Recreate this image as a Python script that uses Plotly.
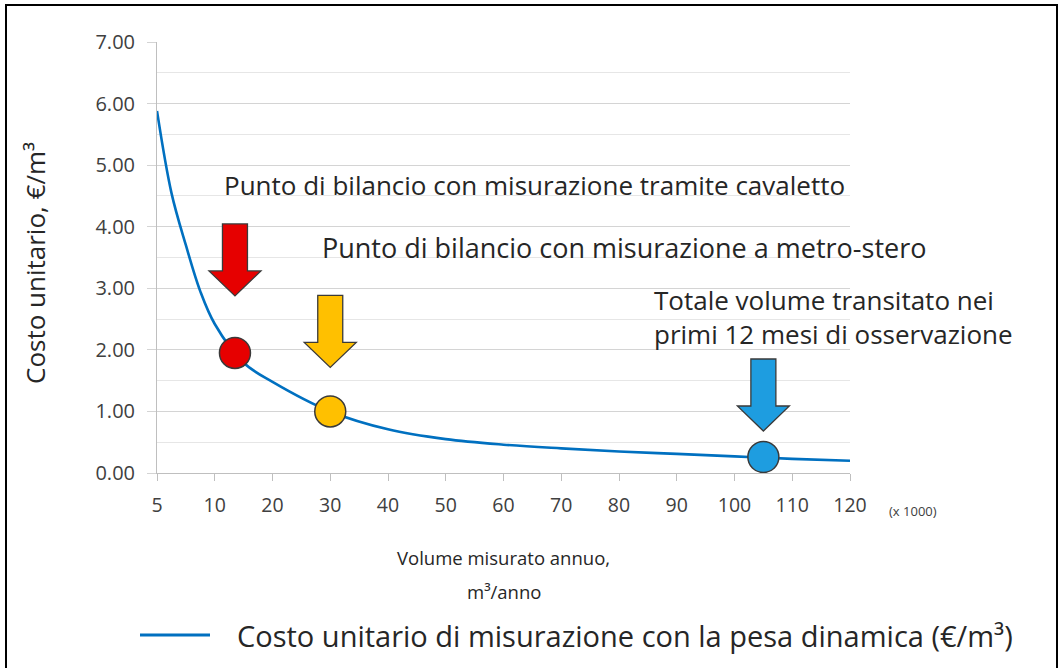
import numpy as np
import plotly.graph_objects as go

# Category ticks of the volume axis (thousands of m3/year), evenly spaced
tick_volumes = [5, 10, 20, 30, 40, 50, 60, 70, 80, 90, 100, 110, 120]
tick_labels = ["5", "10", "20", "30", "40", "50", "60", "70", "80", "90", "100", "110", "120"]

# Unit cost of dynamic weighing (EUR/m3) against measured yearly volume
curve_volume = [5, 6.25, 7.5, 8.75, 10, 15, 20, 30, 40, 50, 60, 70, 80, 90, 100, 110, 120]
curve_cost = [5.88, 4.55, 3.70, 2.95, 2.42, 1.79, 1.48, 1.00, 0.71, 0.55, 0.46, 0.40,
              0.35, 0.31, 0.27, 0.23, 0.20]

# Highlighted points: two break-even points and the observed yearly volume
point_volume = [13.5, 30, 105]
point_cost = [1.95, 1.00, 0.26]
point_colors = ["#E60000", "#FFC000", "#1E9DE0"]
arrow_gap = [57, 44, 26]   # pixels from dot centre up to the arrow tip

legend_name = "Costo unitario di misurazione con la pesa dinamica (€/m³)"

W, H = 1062, 668
L, R, T, B = 157, 212, 42, 195
PW, PH = W - L - R, H - T - B


def to_pos(v):
    """Position of a volume on the evenly spaced category axis."""
    return np.interp(v, tick_volumes, np.arange(len(tick_volumes)))


def px(x):
    return (x - L) / PW


def py(y):
    return (H - B - y) / PH


fig = go.Figure()

fig.add_trace(go.Scatter(
    x=to_pos(curve_volume), y=curve_cost, mode="lines",
    line=dict(color="#0070C0", width=2.6, shape="spline", smoothing=1.0),
    name=legend_name, showlegend=False, hoverinfo="skip",
))

fig.add_trace(go.Scatter(
    x=to_pos(point_volume), y=point_cost, mode="markers",
    marker=dict(size=31, color=point_colors, line=dict(color="#3a3a3a", width=1.5)),
    showlegend=False, hoverinfo="skip",
))

shapes = []
# Block arrows pointing down at each highlighted dot
for v, c, col, g in zip(point_volume, point_cost, point_colors, arrow_gap):
    top, neck = g + 72, g + 25
    path = (f"M -12.5,{top} L 12.5,{top} L 12.5,{neck} L 26,{neck} L 0,{g} "
            f"L -26,{neck} L -12.5,{neck} Z")
    shapes.append(dict(
        type="path", xref="x", yref="y", xsizemode="pixel", ysizemode="pixel",
        xanchor=float(to_pos(v)), yanchor=c, path=path,
        fillcolor=col, line=dict(color="#3a3a3a", width=1.3), layer="above",
    ))

# Manual legend line sample
shapes.append(dict(type="line", xref="paper", yref="paper",
                   x0=px(140), x1=px(210), y0=py(635), y1=py(635),
                   line=dict(color="#0070C0", width=3)))
# Outer frame
shapes.append(dict(type="rect", xref="paper", yref="paper",
                   x0=px(6), x1=px(1057), y0=py(5), y1=py(672),
                   line=dict(color="#000000", width=2), layer="below"))

font_family = "Open Sans, DejaVu Sans, sans-serif"
annotations = [
    dict(x=px(222), y=py(185), text="Punto di bilancio con misurazione tramite cavaletto",
         xanchor="left", yanchor="middle", font=dict(size=26, color="#262626")),
    dict(x=px(320), y=py(247), text="Punto di bilancio con misurazione a metro-stero",
         xanchor="left", yanchor="middle", font=dict(size=27, color="#262626")),
    dict(x=px(652), y=py(317),
         text="Totale volume transitato nei<br>primi 12 mesi di osservazione",
         xanchor="left", yanchor="middle", align="left",
         font=dict(size=26, color="#262626")),
    dict(x=px(887), y=py(511), text="(x 1000)", xanchor="left", yanchor="middle",
         font=dict(size=13, color="#404040")),
    dict(x=0.5, y=py(557), text="Volume misurato annuo,", xanchor="center",
         yanchor="middle", font=dict(size=18.5, color="#262626")),
    dict(x=0.5, y=py(591), text="m³/anno", xanchor="center",
         yanchor="middle", font=dict(size=18.5, color="#262626")),
    dict(x=px(35), y=py(263), text="Costo unitario, €/m³", textangle=-90,
         xanchor="center", yanchor="middle", font=dict(size=26, color="#262626")),
    dict(x=px(235), y=py(635), text=legend_name, xanchor="left", yanchor="middle",
         font=dict(size=29, color="#262626")),
]
for a in annotations:
    a.update(xref="paper", yref="paper", showarrow=False)
    a["font"]["family"] = font_family

fig.update_layout(
    width=W, height=H,
    margin=dict(l=L, r=R, t=T, b=B, pad=0),
    paper_bgcolor="white", plot_bgcolor="white",
    font=dict(family=font_family, color="#404040"),
    showlegend=False,
    shapes=shapes, annotations=annotations,
    xaxis=dict(
        range=[0, len(tick_volumes) - 1], tickmode="array",
        tickvals=list(range(len(tick_volumes))), ticktext=tick_labels,
        showgrid=False, zeroline=False, showline=True, linecolor="#BFBFBF",
        linewidth=1, ticks="outside", ticklen=7, tickcolor="#BFBFBF",
        ticklabelstandoff=8,
        tickfont=dict(size=19.5, color="#404040"), fixedrange=True,
    ),
    yaxis=dict(
        range=[0, 7], tickmode="array", tickvals=list(range(8)),
        tickformat=".2f", showgrid=True, gridcolor="#D4D4D4", gridwidth=1.2,
        zeroline=False, showline=True, linecolor="#BFBFBF", linewidth=1,
        ticks="outside", ticklen=9, tickcolor="#D4D4D4",
        ticklabelstandoff=8,
        tickfont=dict(size=20, color="#404040"), fixedrange=True,
        minor=dict(dtick=0.5, showgrid=True, gridcolor="#E6E6E6", gridwidth=1, ticks=""),
    ),
)

fig.write_html("out.html")
